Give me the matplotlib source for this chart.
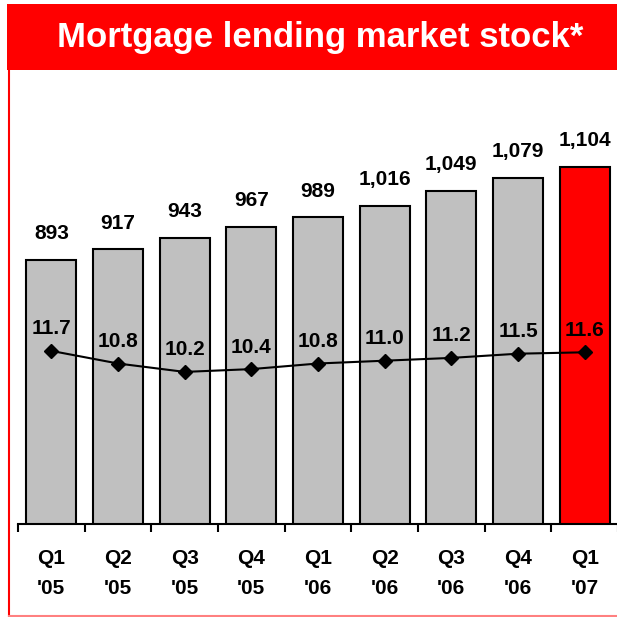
import matplotlib.pyplot as plt
from matplotlib.patches import Rectangle
from matplotlib.lines import Line2D

quarters = ["Q1\n'05", "Q2\n'05", "Q3\n'05", "Q4\n'05", "Q1\n'06",
            "Q2\n'06", "Q3\n'06", "Q4\n'06", "Q1\n'07"]
stock = [893, 917, 943, 967, 989, 1016, 1049, 1079, 1104]
share = [11.7, 10.8, 10.2, 10.4, 10.8, 11.0, 11.2, 11.5, 11.6]

plt.rcParams['font.family'] = ['Liberation Sans', 'DejaVu Sans']
plt.rcParams['font.weight'] = 'bold'

W = 617
fig = plt.figure(figsize=(6.17, 6.17), dpi=100)

# red title banner and frame
fig.patches.append(Rectangle((7 / W, 1 - 70 / W), 1, 66 / W, transform=fig.transFigure,
                             facecolor='#ff0000', edgecolor='none'))
fig.text(0.519, 1 - 38 / W, 'Mortgage lending market stock*', color='white',
         fontsize=25, fontweight='bold', ha='center', va='center')
fig.lines.append(Line2D([8.5 / W, 8.5 / W], [1 - 70 / W, 1 - 615.5 / W],
                        transform=fig.transFigure, color='#ff0000', lw=1.5))
fig.lines.append(Line2D([8.5 / W, 1], [1 - 615.5 / W, 1 - 615.5 / W],
                        transform=fig.transFigure, color='#ff8080', lw=1.5))

ax = fig.add_axes([18 / W, 1 - 524 / W, 600 / W, 449 / W])
x = range(len(stock))
colors = ['#c0c0c0'] * (len(stock) - 1) + ['#ff0000']
ax.bar(x, stock, width=0.75, color=colors, edgecolor='black', linewidth=1.5)
ax.set_xlim(-0.5, len(stock) - 0.5)
ax.set_ylim(294, 1312)
for xi, v in zip(x, stock):
    ax.annotate(f'{v:,}', (xi, v), xytext=(0, 12), textcoords='offset points',
                ha='center', va='bottom', fontsize=15, fontweight='bold')

for s in ['left', 'right', 'top']:
    ax.spines[s].set_visible(False)
ax.spines['bottom'].set_linewidth(1.5)
ax.set_yticks([])
ax.set_xticks(list(x))
ax.set_xticklabels(quarters, fontsize=15, fontweight='bold', linespacing=1.72)
ax.tick_params(axis='x', which='major', length=0, pad=18)
ax.set_xticks([i - 0.5 for i in range(len(stock) + 1)], minor=True)
ax.tick_params(axis='x', which='minor', length=6, width=1.5, direction='out')

ax2 = ax.twinx()
ax2.plot(x, share, color='black', lw=1.5, marker='D', markersize=7)
ax2.set_ylim(-0.66, 31.4)
ax2.set_yticks([])
for s in ax2.spines.values():
    s.set_visible(False)
for xi, v in zip(x, share):
    ax2.annotate(f'{v:.1f}', (xi, v), xytext=(0, 9), textcoords='offset points',
                 ha='center', va='bottom', fontsize=15, fontweight='bold')

fig.savefig('out.png', dpi=100)
